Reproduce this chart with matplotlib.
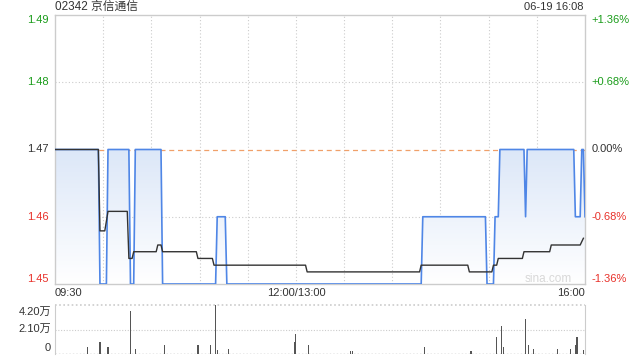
import numpy as np
import matplotlib
matplotlib.use("Agg")
import matplotlib.pyplot as plt

plt.rcParams['font.family'] = ['Liberation Sans', 'Noto Sans CJK SC', 'DejaVu Sans']

# minute index from 09:30 (0) to 16:00 (330), lunch break removed
price_t = [0, 27, 28, 32, 33, 46, 47, 49, 50, 66, 67, 100, 101, 106, 107, 228, 229, 268, 269,
           273, 274, 276, 277, 292, 293, 294, 323, 324, 327, 328, 329, 330]
price = [1.47, 1.47, 1.45, 1.45, 1.47, 1.47, 1.45, 1.45, 1.47, 1.47, 1.45, 1.45, 1.46, 1.46, 1.45, 1.45,
         1.46, 1.46, 1.45, 1.45, 1.46, 1.46, 1.47, 1.47, 1.46, 1.47, 1.47, 1.46, 1.46, 1.47, 1.47, 1.46]

avg_t = [0, 27, 28, 31, 33, 45, 46, 48, 49, 63, 64, 66, 67, 88, 89, 98, 99, 156, 157, 227, 228,
         257, 258, 272, 273, 275, 276, 291, 292, 308, 309, 327, 329]
avg = [1.47, 1.47, 1.4579, 1.4579, 1.4608, 1.4608, 1.4538, 1.4538, 1.4548, 1.4548, 1.4558, 1.4558,
       1.4548, 1.4548, 1.4538, 1.4538, 1.4528, 1.4528, 1.4518, 1.4518, 1.4528, 1.4528, 1.4518, 1.4518,
       1.4528, 1.4528, 1.4538, 1.4538, 1.4548, 1.4548, 1.4558, 1.4558, 1.4568]

vol_t = [20, 28, 33, 47, 50, 68, 89, 97, 100, 101, 108, 149, 150, 158, 184, 185, 230, 259,
         275, 278, 279, 293, 295, 298, 313, 321, 324, 325, 329]
vol = [5600, 9900, 5600, 36500, 3900, 8000, 8000, 8000, 42000, 3600, 3900, 9900, 17400, 8000,
       3000, 3000, 5600, 2500, 14200, 24300, 5600, 30300, 8000, 3900, 3900, 3900, 8000, 14200, 3600]

prev_close = 1.47
price_ticks = [1.45, 1.46, 1.47, 1.48, 1.49]
pct_labels = ['-1.36%', '-0.68%', '0.00%', '+0.68%', '+1.36%']
x_labels = ['09:30', '12:00/13:00', '16:00']

GREEN = '#1a9c1a'
RED = '#e8312a'
DARK = '#333333'
GRID = '#cccccc'
BLUE = '#4f86e6'

fig = plt.figure(figsize=(6.4, 3.6), dpi=100)
ax = fig.add_axes([55 / 640, 1 - 284 / 360, 530 / 640, 269 / 360])
axv = fig.add_axes([55 / 640, 1 - 354 / 360, 530 / 640, 49 / 360])

ax.set_xlim(0, 330)
ax.set_ylim(1.45, 1.49)

# gradient fill under price
poly = ax.fill_between(price_t, price, 1.45, color='none')
grad = np.linspace(0, 1, 256).reshape(-1, 1)
cmap = matplotlib.colors.LinearSegmentedColormap.from_list('g', ['#ffffff', '#dce7f8'])
img = ax.imshow(grad, cmap=cmap, aspect='auto', extent=[0, 330, 1.45, 1.47],
                origin='lower', zorder=1)
img.set_clip_path(poly.get_paths()[0], transform=ax.transData)

for x in range(30, 330, 30):
    ax.axvline(x, color=GRID, lw=0.8, ls=(0, (1, 2)), zorder=0)
for y in [1.46, 1.48]:
    ax.axhline(y, color=GRID, lw=0.8, ls=(0, (1, 2)), zorder=0)
ax.axhline(prev_close, color='#f0a06a', lw=0.9, ls=(0, (4, 3)), zorder=0)

ax.plot(price_t, price, color=BLUE, lw=1.2, zorder=3)
ax.plot(avg_t, avg, color=DARK, lw=1.0, zorder=4)

ax.set_xticks([])
ax.set_yticks([])
for s in ax.spines.values():
    s.set_color(GRID)
    s.set_linewidth(1)

for i, (p, lab) in enumerate(zip(price_ticks, pct_labels)):
    c = RED if p < prev_close else (GREEN if p > prev_close else DARK)
    va = 'bottom' if i == 0 else ('top' if i == len(price_ticks) - 1 else 'center')
    ax.text(-4, p, '%.2f' % p, color=c, fontsize=8, ha='right', va=va)
    ax.text(334, p, lab, color=c, fontsize=8, ha='left', va=va)

xl_y = 1 - 293 / 360
fig.text(55 / 640, xl_y, x_labels[0], fontsize=8, color=DARK, ha='left', va='center')
fig.text(296 / 640, xl_y, x_labels[1], fontsize=8, color=DARK, ha='center', va='center')
fig.text(585 / 640, xl_y, x_labels[2], fontsize=8, color=DARK, ha='right', va='center')
fig.text(55 / 640, 1 - 7 / 360, '02342 京信通信', fontsize=8.5, color=DARK, ha='left', va='center')
fig.text(583 / 640, 1 - 7 / 360, '06-19 16:08', fontsize=8, color=DARK, ha='right', va='center')
ax.text(307, 1.4508, 'sina.com', fontsize=8.5, color='#d8d8d8', ha='center', va='center', zorder=5)

# volume
axv.set_xlim(0, 330)
axv.set_ylim(0, 42000)
axv.bar(vol_t, vol, width=0.7, color='#555555', zorder=3)
axv.axhline(21000, color=GRID, lw=0.8, ls=(0, (1, 1.5)))
axv.axhline(42000, color=GRID, lw=1.2, ls=(0, (1, 1.5)), clip_on=False)
axv.axhline(0, color='#999999', lw=1.0, ls=(0, (1, 1.5)))
axv.set_xticks([])
axv.set_yticks([])
axv.spines['top'].set_visible(False)
axv.spines['bottom'].set_visible(False)
axv.spines['left'].set_color(GRID)
axv.spines['right'].set_color(GRID)
fig.text(51 / 640, 1 - 312 / 360, '4.20万', fontsize=8, color=DARK, ha='right', va='center')
fig.text(51 / 640, 1 - 329 / 360, '2.10万', fontsize=8, color=DARK, ha='right', va='center')
fig.text(51 / 640, 1 - 348 / 360, '0', fontsize=8, color=DARK, ha='right', va='center')

fig.savefig('out.png', dpi=100)
